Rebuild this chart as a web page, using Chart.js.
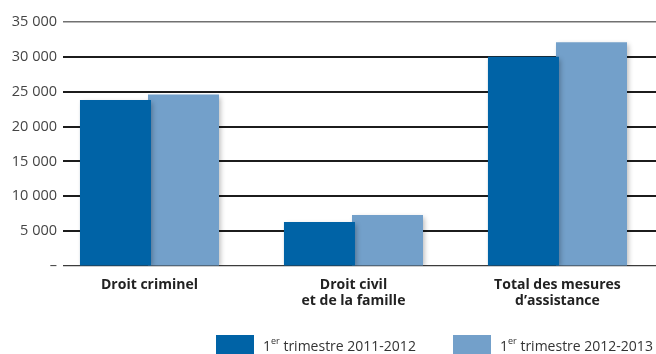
<!DOCTYPE html>
<html>
<head>
<meta charset="utf-8">
<script src="https://cdn.jsdelivr.net/npm/chart.js@4/dist/chart.umd.min.js"></script>
<style>
  html, body { margin: 0; padding: 0; background: #fff; }
  #wrap { position: relative; width: 656px; height: 354px; overflow: hidden; }
  #myChart { position: absolute; left: 0; top: 0; }
  .legend-item { position: absolute; top: 335px; height: 19px; display: flex; align-items: center;
    font-family: "Open Sans", sans-serif; font-size: 14px; color: #333; white-space: nowrap; }
  .swatch { width: 38px; height: 19px; margin-right: 9px; }
  .legend-item sup { font-size: 9px; position: relative; top: -1px; }
</style>
</head>
<body>
<div id="wrap">
  <canvas id="myChart" width="656" height="354"></canvas>
  <div class="legend-item" style="left:216px"><div class="swatch" style="background:rgb(0,99,166)"></div><span>1<sup>er</sup> trimestre 2011-2012</span></div>
  <div class="legend-item" style="left:453px"><div class="swatch" style="background:rgb(115,160,202)"></div><span>1<sup>er</sup> trimestre 2012-2013</span></div>
</div>
<script>
// categories and values per quarter
const categories = [
    ['Droit criminel'],
    ['Droit civil', 'et de la famille'],
    ['Total des mesures', 'd\u2019assistance']
];
const values2011 = [23800, 6300, 30000];
const values2012 = [24600, 7300, 32100];
const yTicks = [0, 5000, 10000, 15000, 20000, 25000, 30000, 35000];

function toPoints(values) {
    return values.map((v, i) => { return { x: i, y: v } })
}

function formatThousands(v) {
    if (v === 0) return '\u2013';
    return String(v).replace(/\B(?=(\d{3})+(?!\d))/g, ' ');
}

// soft drop shadow under the bars
const barShadow = {
    id: 'barShadow',
    beforeDatasetsDraw(chart) {
        const ctx = chart.ctx;
        ctx.save();
        ctx.shadowColor = 'rgba(0, 0, 0, 0.28)';
        ctx.shadowBlur = 5;
        ctx.shadowOffsetX = 2;
        ctx.shadowOffsetY = 2;
    },
    afterDatasetsDraw(chart) {
        chart.ctx.restore();
    }
};

const data = {
    datasets: [{
        label: '1er trimestre 2011-2012',
        data: toPoints(values2011),
        backgroundColor: 'rgb(0, 99, 166)',
        categoryPercentage: 0.667,
        barPercentage: 1.044
    },
    {
        label: '1er trimestre 2012-2013',
        data: toPoints(values2012),
        backgroundColor: 'rgb(115, 160, 202)',
        categoryPercentage: 0.667,
        barPercentage: 1.044
    }]
};

const config = {
    type: 'bar',
    data: data,
    plugins: [barShadow],
    options: {
        responsive: false,
        animation: false,
        layout: { padding: { top: 22, right: 0, bottom: 0, left: 0 } },
        plugins: {
            legend: { display: false },
            tooltip: { enabled: false }
        },
        scales: {
            x: {
                type: 'linear',
                min: -0.424,
                max: 2.483,
                offset: false,
                grid: { display: false, drawTicks: false, offset: false },
                border: { display: false },
                afterFit(scale) { scale.height = 88; },
                ticks: {
                    stepSize: 1,
                    includeBounds: false,
                    autoSkip: false,
                    maxRotation: 0,
                    padding: 11,
                    color: '#222',
                    font: { family: 'Open Sans', size: 14, weight: 'bold', lineHeight: 1.15 },
                    callback: (value) => Number.isInteger(value) && categories[value] ? categories[value] : ''
                }
            },
            y: {
                min: 0,
                max: 35000,
                afterBuildTicks(scale) { scale.ticks = yTicks.map((v) => ({ value: v })); },
                afterFit(scale) { scale.width = 63; },
                border: { display: false },
                grid: {
                    drawTicks: false,
                    color: (ctx) => ctx.tick.value === 35000 ? '#717171' : (ctx.tick.value === 0 ? '#3c3c3c' : '#1c1c1c'),
                    lineWidth: (ctx) => ctx.tick.value === 35000 ? 1.5 : (ctx.tick.value === 0 ? 1.2 : 2)
                },
                ticks: {
                    padding: 6,
                    color: '#444',
                    font: { family: 'Open Sans', size: 14.5 },
                    callback: (value) => formatThousands(value)
                }
            }
        }
    }
};

myChart = new Chart(
    document.getElementById('myChart'),
    config
);
</script>
</body>
</html>
